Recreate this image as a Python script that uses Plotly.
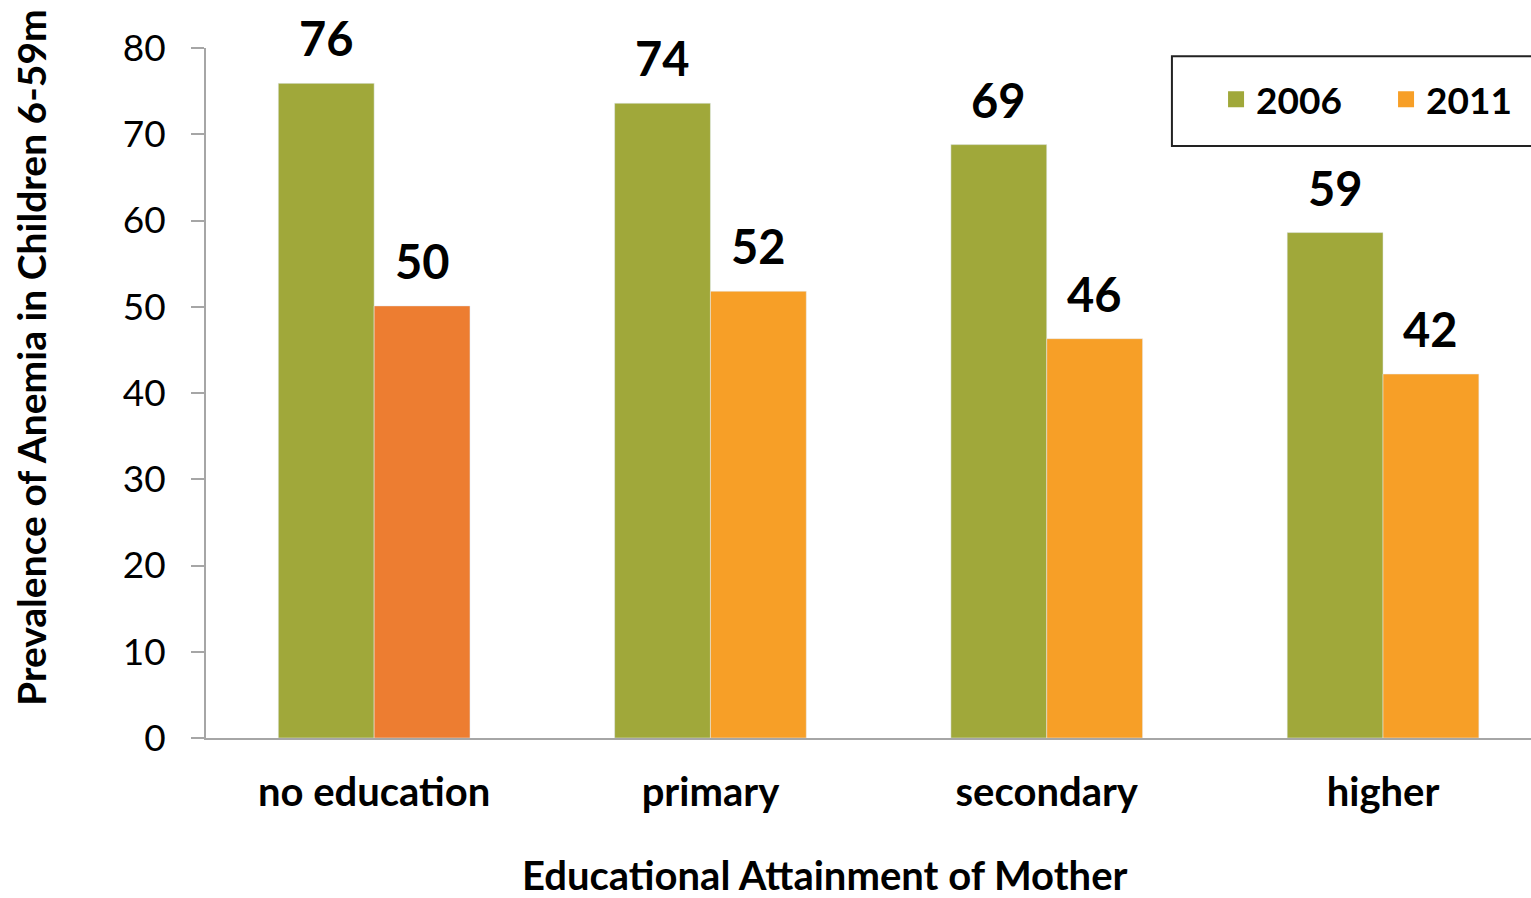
import plotly.graph_objects as go

# data
categories = ["no education", "primary", "secondary", "higher"]
years = ["2006", "2011"]
values_2006 = [75.9, 73.6, 68.8, 58.6]
values_2011 = [50.1, 51.8, 46.3, 42.2]
labels_2006 = ["76", "74", "69", "59"]
labels_2011 = ["50", "52", "46", "42"]
y_ticks = [0, 10, 20, 30, 40, 50, 60, 70, 80]

GREEN = "#A0A83A"
ORANGE = "#F79F27"
ORANGE_FIRST = "#ED7D31"
FONT = "Lato"
BAR_W = 0.285

fig = go.Figure()
fig.add_trace(go.Bar(x=categories, y=values_2006, name=years[0], showlegend=False,
                     marker_color=GREEN, width=BAR_W, offset=-BAR_W))
fig.add_trace(go.Bar(x=categories, y=values_2011, name=years[1], showlegend=False,
                     marker_color=[ORANGE_FIRST] + [ORANGE] * 3,
                     width=BAR_W, offset=0))

# legend entries (one small legend each so they can sit where the original has them)
for yr, col, lg in zip(years, [GREEN, ORANGE], ["legend", "legend2"]):
    fig.add_trace(go.Scatter(x=[None], y=[None], mode="markers", name="<b>%s</b>" % yr,
                             legend=lg, marker=dict(symbol="square", size=24, color=col)))

# value labels above the bars
for i, (v, t) in enumerate(zip(values_2006, labels_2006)):
    fig.add_annotation(x=i - BAR_W / 2, y=v, text="<b>%s</b>" % t, showarrow=False,
                       yanchor="bottom", yshift=15, font=dict(size=47, color="black", family=FONT))
for i, (v, t) in enumerate(zip(values_2011, labels_2011)):
    fig.add_annotation(x=i + BAR_W / 2, y=v, text="<b>%s</b>" % t, showarrow=False,
                       yanchor="bottom", yshift=15, font=dict(size=47, color="black", family=FONT))

# axis titles
fig.add_annotation(x=0.467, y=-0.199, xref="paper", yref="paper", xanchor="center", yanchor="middle",
                   text="<b>Educational Attainment of Mother</b>", showarrow=False,
                   font=dict(size=40, color="black", family=FONT))
fig.add_annotation(x=-0.132, y=0.551, xref="paper", yref="paper", textangle=-90,
                   xanchor="center", yanchor="middle",
                   text="<b>Prevalence of Anemia in Children 6-59m</b>", showarrow=False,
                   font=dict(size=39, color="black", family=FONT))

# legend frame (runs off the right edge like the original)
fig.add_shape(type="rect", xref="paper", yref="paper", x0=0.729, x1=1.05, y0=0.858, y1=0.988,
              line=dict(color="#222222", width=2), fillcolor="rgba(0,0,0,0)")

leg_style = dict(yanchor="middle", xanchor="left", y=0.925, borderwidth=0,
                 bgcolor="rgba(0,0,0,0)", font=dict(size=37, family=FONT, color="black"))

fig.update_layout(
    width=1531, height=898,
    margin=dict(l=206, r=0, t=48, b=160),
    plot_bgcolor="white", paper_bgcolor="white",
    font=dict(family=FONT, color="black"),
    barmode="group",
    showlegend=True,
    legend=dict(x=0.7623, **leg_style),
    legend2=dict(x=0.8906, **leg_style),
)
fig.update_xaxes(range=[-0.5, 3.44], showline=True, linecolor="#A6A6A6", linewidth=2,
                 ticks="", ticklabelstandoff=18,
                 tickfont=dict(size=40, family=FONT, color="black", weight="bold"))
fig.update_yaxes(range=[0, 80], tickvals=y_ticks, showline=True, linecolor="#A6A6A6",
                 linewidth=2, ticks="outside", ticklen=13, tickcolor="#A6A6A6", tickwidth=2,
                 showgrid=False, zeroline=False, ticklabelstandoff=18,
                 tickfont=dict(size=37, family=FONT, color="black"))

fig.write_html("out.html", config={"displayModeBar": False},
               post_script="document.body.style.margin='0px';")
